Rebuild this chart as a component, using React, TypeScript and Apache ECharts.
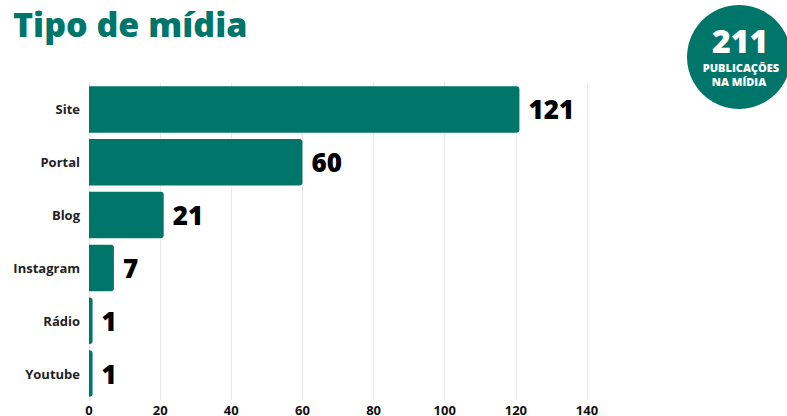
import React, { useEffect, useRef } from "react";
import * as echarts from "echarts";

const categories = ["Site", "Portal", "Blog", "Instagram", "Rádio", "Youtube"];
const values = [121, 60, 21, 7, 1, 1];
const xTicks = [0, 20, 40, 60, 80, 100, 120, 140];
const totalLabel = "211";
const totalCaption = ["PUBLICAÇÕES", "NA MÍDIA"];
const title = "Tipo de mídia";

const TEAL = "#00756a";
const FONT = "'Open Sans', 'Noto Sans', sans-serif";

export default function App() {
  const ref = useRef<HTMLDivElement>(null);
  useEffect(() => {
    if (!ref.current) return;
    const chart = echarts.init(ref.current, undefined, { renderer: "svg" });
    chart.setOption({
      animation: false,
      backgroundColor: "#ffffff",
      grid: { left: 89, right: 200, top: 83, bottom: 13, containLabel: false },
      xAxis: {
        type: "value",
        min: xTicks[0],
        max: xTicks[xTicks.length - 1],
        interval: 20,
        axisLine: { show: false },
        axisTick: { show: false },
        splitLine: { show: true, lineStyle: { color: "#e8e8e8", width: 1 } },
        axisLabel: {
          margin: 3,
          fontFamily: FONT,
          fontWeight: 700,
          fontSize: 13,
          color: "#111",
        },
      },
      yAxis: {
        type: "category",
        inverse: true,
        data: categories,
        axisLine: { show: true, lineStyle: { color: "#e0e0e0" } },
        axisTick: { show: false },
        axisLabel: {
          margin: 9,
          fontFamily: FONT,
          fontWeight: 700,
          fontSize: 13,
          color: "#222",
        },
      },
      series: [
        {
          type: "bar",
          data: values,
          barCategoryGap: "12%",
          itemStyle: { color: TEAL, borderRadius: [0, 3, 3, 0] },
          label: {
            show: true,
            position: "right",
            distance: 9,
            fontFamily: FONT,
            fontWeight: 800,
            fontSize: 26,
            color: "#000",
          },
        },
      ],
      graphic: [
        {
          type: "text",
          left: 13,
          top: 7,
          style: {
            text: title,
            font: `800 34px ${FONT}`,
            fill: TEAL,
          },
        },
        {
          type: "circle",
          shape: { cx: 739, cy: 57, r: 52 },
          style: { fill: TEAL },
        },
        {
          type: "text",
          x: 740,
          y: 40,
          style: {
            text: totalLabel,
            font: `800 32px ${FONT}`,
            fill: "#fff",
            align: "center",
            verticalAlign: "middle",
          },
        },
        {
          type: "text",
          x: 741,
          y: 67,
          style: {
            text: totalCaption[0],
            font: `800 11px ${FONT}`,
            fill: "#fff",
            align: "center",
            verticalAlign: "middle",
          },
        },
        {
          type: "text",
          x: 739,
          y: 81,
          style: {
            text: totalCaption[1],
            font: `800 11px ${FONT}`,
            fill: "#fff",
            align: "center",
            verticalAlign: "middle",
          },
        },
      ],
    });
    return () => chart.dispose();
  }, []);
  return <div ref={ref} style={{ width: 787, height: 416, position: "fixed", left: 0, top: 0 }} />;
}
